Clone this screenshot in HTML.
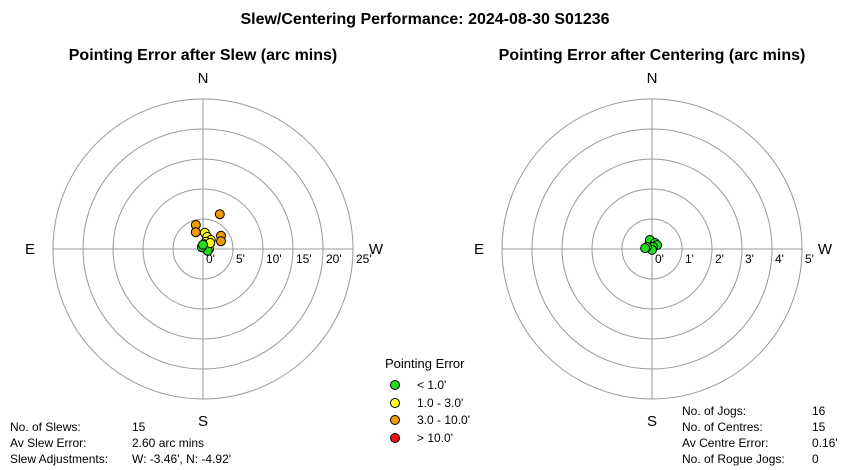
<!DOCTYPE html>
<html><head><meta charset="utf-8"><style>
body{margin:0;background:#fff;}
svg{display:block;font-family:"Liberation Sans",sans-serif;}
</style></head><body>
<svg id="c" width="850" height="470" xmlns="http://www.w3.org/2000/svg">
<text x="425" y="24" text-anchor="middle" font-size="16" font-weight="bold">Slew/Centering Performance: 2024-08-30 S01236</text>
<g id="left"></g>
<g id="right"></g>
<g font-size="12">
<text x="385" y="368" font-size="13">Pointing Error</text>
<circle cx="395" cy="385" r="4.5" fill="#22dd22" stroke="#000"/>
<text x="417" y="389">&lt; 1.0'</text>
<circle cx="395" cy="403" r="4.5" fill="#ffff22" stroke="#000"/>
<text x="417" y="407">1.0 - 3.0'</text>
<circle cx="395" cy="420" r="4.5" fill="#ee9900" stroke="#000"/>
<text x="417" y="424">3.0 - 10.0'</text>
<circle cx="395" cy="438" r="4.5" fill="#ee1111" stroke="#000"/>
<text x="417" y="442">&gt; 10.0'</text>
</g>
<g font-size="12">
<text x="10" y="431">No. of Slews:</text><text x="132" y="431">15</text>
<text x="10" y="447">Av Slew Error:</text><text x="132" y="447">2.60 arc mins</text>
<text x="10" y="463">Slew Adjustments:</text><text x="132" y="463">W: -3.46', N: -4.92'</text>
</g>
<g font-size="12">
<text x="682" y="415">No. of Jogs:</text><text x="812" y="415">16</text>
<text x="682" y="431">No. of Centres:</text><text x="812" y="431">15</text>
<text x="682" y="447">Av Centre Error:</text><text x="812" y="447">0.16'</text>
<text x="682" y="463">No. of Rogue Jogs:</text><text x="812" y="463">0</text>
</g>
</svg>
<script>
const slewW=[2.8,-1.2,-1.2,3.0,3.0,0.3,0.7,1.3,0.5,0.2,1.0,0.8,1.2,-0.2,0.0];
const slewN=[5.8,4.0,2.8,2.2,1.3,2.7,2.0,1.5,1.2,0.8,0.0,-0.3,1.0,0.3,0.7];
const slewTicks=["0'","5'","10'","15'","20'","25'"];
const slewStep=5;
const centW=[-0.07,0.1,0.17,0.03,0,-0.17,-0.23];
const centN=[0.3,0.2,0.13,0.07,-0.03,0.07,0.03];
const centTicks=["0'","1'","2'","3'","4'","5'"];
const centStep=1;
const NS="http://www.w3.org/2000/svg";
function mk(p,t,a){const e=document.createElementNS(NS,t);for(const k in a)e.setAttribute(k,a[k]);p.appendChild(e);return e;}
function col(v){return v<1?"#22dd22":v<3?"#ffff22":v<10?"#ee9900":"#ee1111";}
function draw(g,cx,cy,title,ticks,step,W,N){
  const pxPer=30/step;
  const t=mk(g,"text",{x:cx,y:60,"text-anchor":"middle","font-size":"16","font-weight":"bold"});
  
  
  t.textContent=title;
  for(let i=1;i<=5;i++){const c=mk(g,"circle",{cx:cx,cy:cy,r:i*30,fill:"none",stroke:"#999"});
    
    }
  const l1=mk(g,"line",{x1:cx-150,y1:cy,x2:cx+150,y2:cy,stroke:"#999"});
  
  
  const l2=mk(g,"line",{x1:cx,y1:cy-150,x2:cx,y2:cy+150,stroke:"#999"});
  
  
  [["N",cx,cy-166],["S",cx,cy+177],["E",cx-173,cy+5],["W",cx+173,cy+5]].forEach(d=>{
    const e=mk(g,"text",{x:d[1],y:d[2],"text-anchor":"middle","font-size":"15"});
    
    
    e.textContent=d[0];});
  ticks.forEach((s,i)=>{const e=mk(g,"text",{x:cx+i*30+3,y:cy+14,"font-size":"12"});
    
    
    e.textContent=s;});
  W.forEach((w,i)=>{const n=N[i];const v=Math.sqrt(w*w+n*n);
    const c=mk(g,"circle",{cx:cx+w*pxPer,cy:cy-n*pxPer,r:4.5,fill:col(v),stroke:"#000"});
    
    });
}
draw(document.getElementById("left"),203,249,"Pointing Error after Slew (arc mins)",slewTicks,slewStep,slewW,slewN);
draw(document.getElementById("right"),652,249,"Pointing Error after Centering (arc mins)",centTicks,centStep,centW,centN);
</script>
</body></html>
